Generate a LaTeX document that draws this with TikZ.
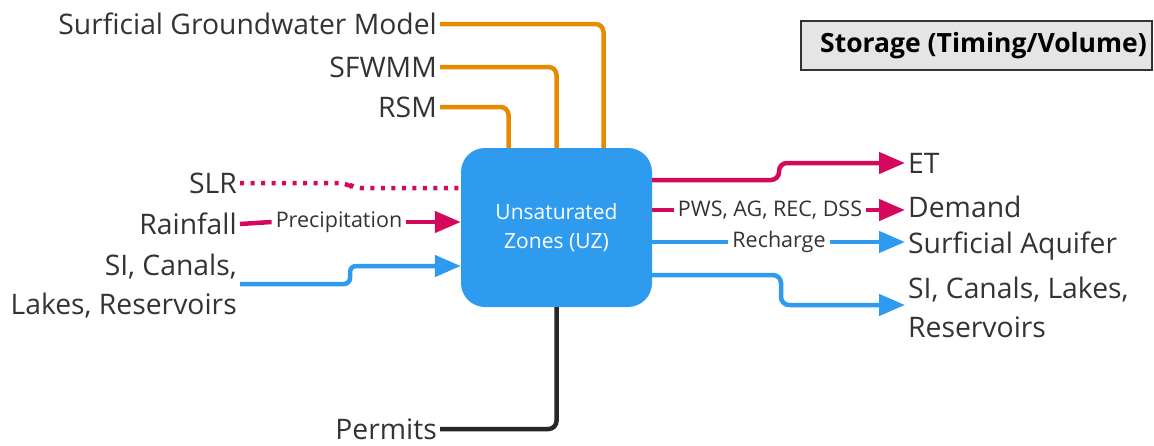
\documentclass[tikz,border=0pt]{standalone}
\usepackage{fontspec}
\setmainfont{Open Sans}
\usepackage{tikz}
\usetikzlibrary{arrows.meta}
\definecolor{uzblue}{HTML}{2E9BEF}
\definecolor{lineorange}{HTML}{E68A00}
\definecolor{linepink}{HTML}{D6085E}
\definecolor{labelgrey}{HTML}{333333}

\begin{document}
\begin{tikzpicture}[x=1pt,y=-1pt,every node/.style={text=labelgrey,font=\fontsize{28.3}{39}\selectfont,inner sep=3pt},
  lbl/.style={align=right,anchor=east},
  rlbl/.style={align=left,anchor=west},
  tag/.style={font=\fontsize{21.5}{25}\selectfont,inner sep=4pt},
  zone/.style={fill=uzblue,rounded corners=24pt,minimum width=191pt,minimum height=159pt,text=white,font=\fontsize{21}{29}\selectfont,align=center},
  wire/.style={line width=4.5pt,rounded corners=8pt},
  tip/.style={-{Triangle[length=26pt,width=21pt]}},
  orangeline/.style={wire,lineorange},
  pinkline/.style={wire,linepink},
  blueline/.style={wire,uzblue},
  blackline/.style={wire,black!85}]
\useasboundingbox (0,0) rectangle (1154,445);
\node[zone] (uz) at (556.5,227.5) {Unsaturated\\Zones (UZ)};
\node[draw=black!80,line width=2pt,fill=black!10,minimum width=351pt,minimum height=49pt,inner sep=0pt,font=\fontsize{26.5}{30}\bfseries] (stor) at (976.5,45.5) {\hspace*{14pt}\textcolor{black}{Storage (Timing/Volume)}};
% models on top
\node[lbl] (gw) at (440,24) {Surficial Groundwater Model};
\node[lbl] (sfwmm) at (440,67) {SFWMM};
\node[lbl] (rsm) at (440,107) {RSM};
\draw[orangeline] (gw.east) -| ([xshift=47pt]uz.north);
\draw[orangeline] (sfwmm.east) -| (uz.north);
\draw[orangeline] (rsm.east) -| ([xshift=-48pt]uz.north);
% inputs
\node[lbl] (slr) at (240,183) {SLR};
\node[lbl] (rain) at (240,224) {Rainfall};
\node[lbl,text depth=0pt] (si) at (240,284) {SI, Canals,\\Lakes, Reservoirs};
\node[tag] (prec) at (339,222) {Precipitation};
\draw[pinkline,dash pattern=on 4pt off 6.5pt] (slr.east) -- (347,183) -- (353,188) -- (353,188 -| uz.west);
\draw[pinkline] (rain.east) -- (prec.west);
\draw[pinkline,tip] (prec.east) -- (prec.east -| uz.west);
\draw[blueline,rounded corners=6pt,tip] (si.east) -| (350,266) -- (350,266 -| uz.west);
% permits
\node[lbl] (perm) at (440,429) {Permits};
\draw[blackline] (uz.south) |- (perm.east);
% outputs
\node[rlbl] (et) at (905,163) {ET};
\node[rlbl] (dem) at (905,207) {Demand};
\node[rlbl] (aq) at (905,246) {Surficial Aquifer};
\node[rlbl,text depth=0pt] (res) at (905,307) {SI, Canals, Lakes,\\Reservoirs};
\node[tag] (pws) at (770,210) {PWS, AG, REC, DSS};
\node[tag] (rech) at (779,242) {Recharge};
\draw[pinkline,tip] (uz.east |- 0,180) -| (779,163) -- (et.west);
\draw[pinkline] (uz.east |- pws.west) -- (pws.west);
\draw[pinkline,tip] (pws.east) -- (pws.east -| dem.west);
\draw[blueline] (uz.east |- rech.west) -- (rech.west);
\draw[blueline,tip] (rech.east) -- (rech.east -| aq.west);
\draw[blueline,tip] (uz.east |- 0,275) -| (781,305) -- (781,305 -| res.west);
\end{tikzpicture}
\end{document}
